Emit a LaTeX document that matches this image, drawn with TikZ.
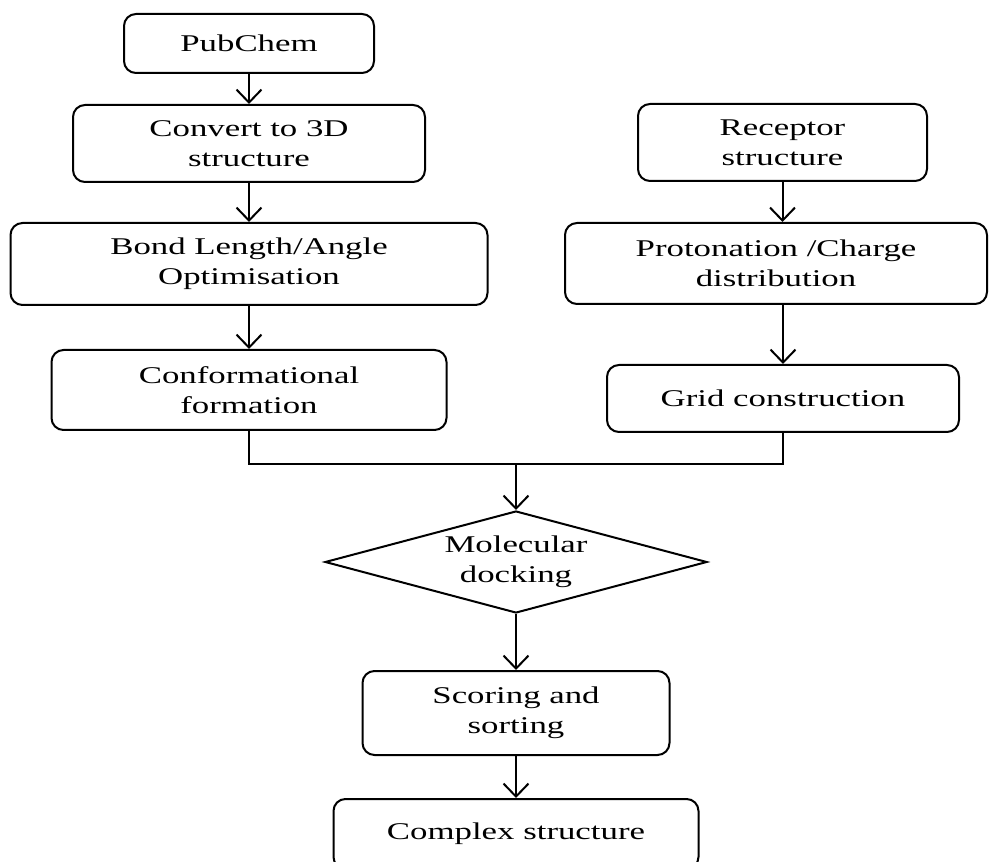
\documentclass[tikz,border=0pt]{standalone}
\usepackage{fontspec}
\setmainfont{Liberation Serif}[FakeStretch=1.45]
\usetikzlibrary{arrows.meta,shapes.geometric}
\begin{document}
\begin{tikzpicture}[x=0.75pt,y=-0.75pt,
  box/.style={draw,line width=1.5pt,rounded corners=9pt,align=center,inner sep=0pt,
    font=\fontsize{18}{22.5}\selectfont},
  decision/.style={draw,diamond,line width=1.5pt,shape aspect=3.75,inner sep=0pt,align=center,
    minimum width=382*0.75pt,minimum height=102*0.75pt,font=\fontsize{18}{22.5}\selectfont},
  flow/.style={line width=1.5pt,-{Straight Barb[length=9.75pt,width=18.75pt]}},
  link/.style={line width=1.5pt}]
\useasboundingbox (0,0) rectangle (989,862);
\clip (0,0) rectangle (989,862);
\fill[white] (0,0) rectangle (989,862);
\node[box,minimum width=250*0.75pt,minimum height=59*0.75pt] (pub) at (249,43.5) {PubChem};
\node[box,minimum width=352*0.75pt,minimum height=77*0.75pt] (conv) at (249,143.5) {Convert to 3D\\structure};
\node[box,minimum width=477*0.75pt,minimum height=82*0.75pt] (bond) at (249,264) {Bond Length/Angle\\Optimisation};
\node[box,minimum width=395*0.75pt,minimum height=80*0.75pt] (conf) at (249,390) {Conformational\\formation};
\node[box,minimum width=289*0.75pt,minimum height=77*0.75pt] (rec) at (782.5,142.5) {Receptor\\structure};
\node[box,minimum width=422*0.75pt,minimum height=81*0.75pt] (prot) at (776,263.5) {Protonation /Charge\\distribution};
\node[box,minimum width=352*0.75pt,minimum height=67*0.75pt] (grid) at (783,398.5) {Grid construction};
\node[decision] (dock) at (516,562) {Molecular\\docking};
\node[box,minimum width=307*0.75pt,minimum height=84*0.75pt] (score) at (516,713) {Scoring and\\sorting};
\node[box,minimum width=365*0.75pt,minimum height=70*0.75pt] (cplx) at (516,834) {Complex structure};
\coordinate (merge) at (516,464);
\draw[flow] (pub) -- (conv);
\draw[flow] (conv) -- (bond);
\draw[flow] (bond) -- (conf);
\draw[flow] (rec.south) -- (rec.south |- prot.north);
\draw[flow] (grid.north |- prot.south) -- (grid.north);
\draw[link] (conf.south) -- (conf.south |- merge) -- (grid.south |- merge) -- (grid.south);
\draw[flow] (merge) -- (dock.north);
\draw[flow] (dock.south) -- (score.north);
\draw[flow] (score.south) -- (cplx.north);
\end{tikzpicture}
\end{document}
